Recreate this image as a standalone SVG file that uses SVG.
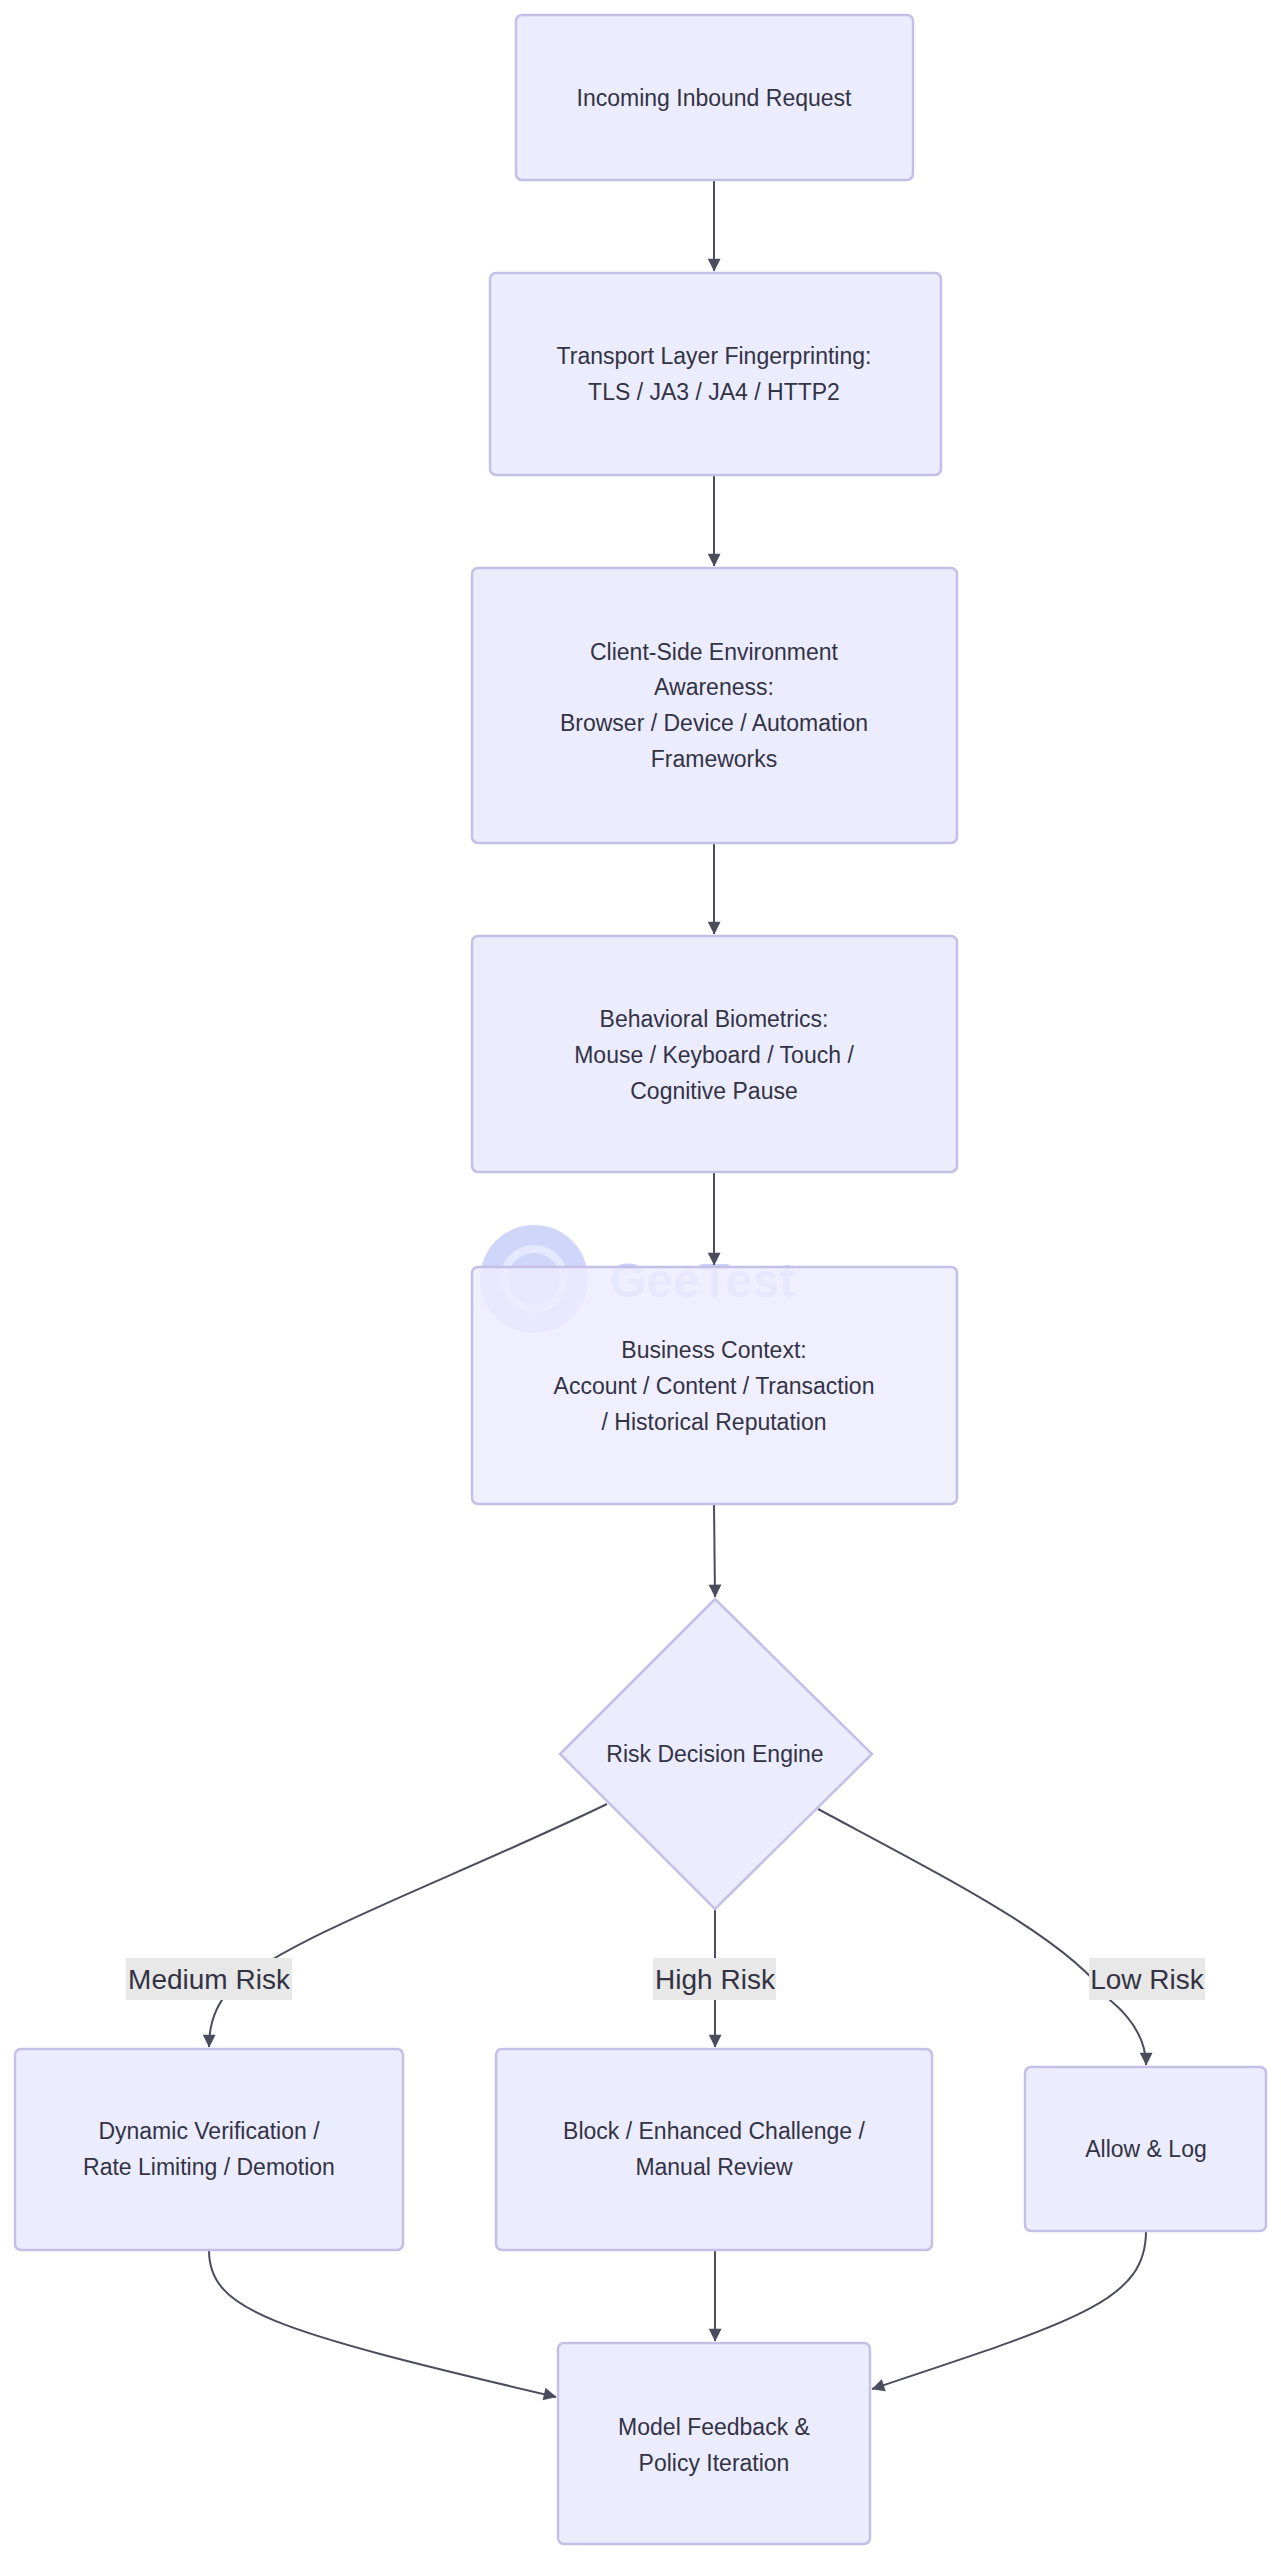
<svg xmlns="http://www.w3.org/2000/svg" width="1281" height="2560" viewBox="0 0 1281 2560">
<style>
.n{fill:#ececff;stroke:#c5bfe6;stroke-width:2.5}
.t{font-family:"Liberation Sans",Arial,sans-serif;font-size:23px;fill:#333344;text-anchor:middle;dominant-baseline:central}
.e{fill:none;stroke:#4b4d5c;stroke-width:2}
.lb{fill:#e8e8e8}
.lt{font-family:"Liberation Sans",Arial,sans-serif;font-size:28px;fill:#333344;text-anchor:middle;dominant-baseline:central}
</style>
<defs>
<marker id="a" viewBox="0 0 10 10" refX="9" refY="5" markerWidth="8" markerHeight="8" markerUnits="userSpaceOnUse" orient="auto" style="overflow:visible">
<path d="M0,0 L10,5 L0,10 z" fill="#4b4d5c" transform="scale(1.6)translate(-4,-2)"/>
</marker>
</defs>
<rect width="1281" height="2560" fill="#ffffff"/>
<g id="watermark" opacity="0.85">
<circle cx="534" cy="1279" r="54" fill="#c8d0f8"/>
<circle cx="534" cy="1279" r="30" fill="none" stroke="#e0e6ff" stroke-width="8"/>
<text x="609" y="1280" font-family="Liberation Sans,Arial,sans-serif" font-size="48" font-weight="bold" fill="#c0cbf8" dominant-baseline="central">GeeTest</text>
</g>
<g id="connectors">
<path class="e" d="M714,180 L714,271" marker-end="url(#a)"/>
<path class="e" d="M714,475 L714,566" marker-end="url(#a)"/>
<path class="e" d="M714,843 L714,934" marker-end="url(#a)"/>
<path class="e" d="M714,1172 L714,1265" marker-end="url(#a)"/>
<path class="e" d="M714,1504 L715,1597" marker-end="url(#a)"/>
<path class="e" d="M607,1804 C450,1880 280,1940 230,1990 Q209,2012 209,2047" marker-end="url(#a)"/>
<path class="e" d="M715,1909 L715,2047" marker-end="url(#a)"/>
<path class="e" d="M818,1809 C950,1880 1070,1940 1110,2000 Q1146,2030 1146,2065" marker-end="url(#a)"/>
<path class="e" d="M209,2250 C209,2310 270,2330 556,2397" marker-end="url(#a)"/>
<path class="e" d="M715,2250 L715,2341" marker-end="url(#a)"/>
<path class="e" d="M1146,2231 C1146,2300 1080,2320 872,2389" marker-end="url(#a)"/>
</g>
<g id="labels">
<rect class="lb" x="126" y="1958" width="166" height="42"/><text class="lt" x="209" y="1979">Medium Risk</text>
<rect class="lb" x="653" y="1958" width="123" height="42"/><text class="lt" x="715" y="1979">High Risk</text>
<rect class="lb" x="1089" y="1958" width="116" height="42"/><text class="lt" x="1147" y="1979">Low Risk</text>
</g>
<g id="n1"><rect class="n" x="516" y="15" width="397" height="165" rx="6"/><text class="t" x="714" y="98">Incoming Inbound Request</text></g>
<g id="n2"><rect class="n" x="490" y="273" width="451" height="202" rx="6"/><text class="t" x="714" y="356">Transport Layer Fingerprinting:</text><text class="t" x="714" y="392">TLS / JA3 / JA4 / HTTP2</text></g>
<g id="n3"><rect class="n" x="472" y="568" width="485" height="275" rx="6"/><text class="t" x="714" y="652">Client-Side Environment</text><text class="t" x="714" y="687">Awareness:</text><text class="t" x="714" y="723">Browser / Device / Automation</text><text class="t" x="714" y="759">Frameworks</text></g>
<g id="n4"><rect class="n" x="472" y="936" width="485" height="236" rx="6"/><text class="t" x="714" y="1019">Behavioral Biometrics:</text><text class="t" x="714" y="1055">Mouse / Keyboard / Touch /</text><text class="t" x="714" y="1091">Cognitive Pause</text></g>
<g id="n5"><rect class="n" x="472" y="1267" width="485" height="237" rx="6" fill-opacity="0.85"/><text class="t" x="714" y="1350">Business Context:</text><text class="t" x="714" y="1386">Account / Content / Transaction</text><text class="t" x="714" y="1422">/ Historical Reputation</text></g>
<g id="d"><polygon class="n" points="715,1599 872,1754 715,1909 560,1754"/><text class="t" x="715" y="1754">Risk Decision Engine</text></g>
<g id="m"><rect class="n" x="15" y="2049" width="388" height="201" rx="6"/><text class="t" x="209" y="2131">Dynamic Verification /</text><text class="t" x="209" y="2167">Rate Limiting / Demotion</text></g>
<g id="h"><rect class="n" x="496" y="2049" width="436" height="201" rx="6"/><text class="t" x="714" y="2131">Block / Enhanced Challenge /</text><text class="t" x="714" y="2167">Manual Review</text></g>
<g id="l"><rect class="n" x="1025" y="2067" width="241" height="164" rx="6"/><text class="t" x="1146" y="2149">Allow &amp; Log</text></g>
<g id="f"><rect class="n" x="558" y="2343" width="312" height="201" rx="6"/><text class="t" x="714" y="2427">Model Feedback &amp;</text><text class="t" x="714" y="2463">Policy Iteration</text></g>
</svg>
